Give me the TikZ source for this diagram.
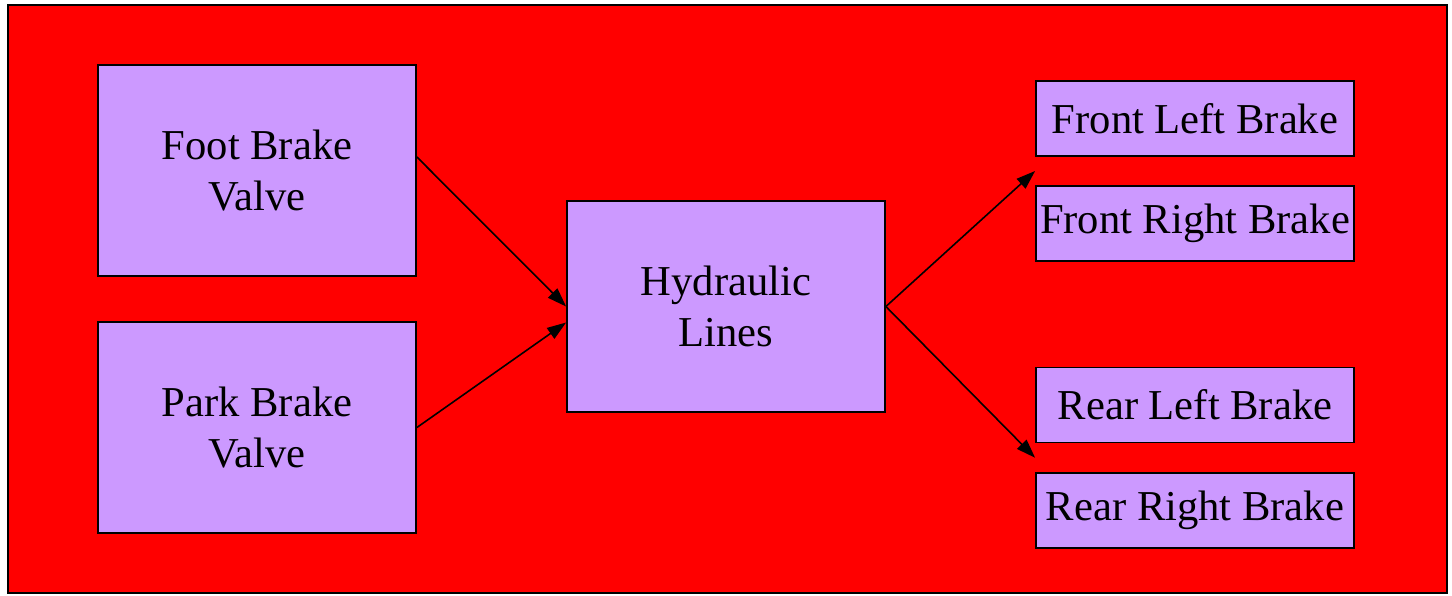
\documentclass[tikz,border=0pt]{standalone}
\usepackage{fontspec}
\setmainfont{Liberation Serif}
\usepackage{tikz}
\usetikzlibrary{arrows.meta,positioning,calc}
\definecolor{bgRed}{HTML}{FF0000}
\definecolor{boxLilac}{HTML}{CC99FF}

\begin{document}
\begin{tikzpicture}[
          x=0.5pt, y=-0.5pt,
          box/.style={rectangle, draw, fill=boxLilac, line width=0.9pt, align=center,
                      font=\fontsize{21.3pt}{25.5pt}\selectfont,
                      minimum width=159pt, minimum height=105.5pt, inner sep=0pt},
          brake/.style={box, minimum height=37.5pt},
          >={Triangle[length=9.5pt,width=6.5pt]},
          link/.style={->, line width=0.8pt}
        ]
        \useasboundingbox (0,0) rectangle (1452,595);
        \draw[fill=bgRed, line width=1pt] (8,5) rectangle (1447,593);
        \node[box] (foot) at (257,170.5) {Foot Brake\\Valve};
        \node[box] (park) at (257,427.5) {Park Brake\\Valve};
        \node[box] (hyd) at (726,306.5) {Hydraulic\\Lines};
        \node[brake] (fl) at (1195,118.5) {Front Left Brake};
        \node[brake] (fr) at (1195,223.5) {Front Right Brake};
        \node[brake] (rl) at (1195,405) {Rear Left Brake};
        \node[brake] (rr) at (1195,510.5) {Rear Right Brake};
        \coordinate (front) at ($(fl.south west)!0.5!(fr.north west)$);
        \coordinate (rear) at ($(rl.south west)!0.5!(rr.north west)$);
        \draw[link] ([yshift=6.75pt]foot.east) -- (hyd.west);
        \draw[link] (park.east) -- ([yshift=-8pt]hyd.west);
        \draw[link] (hyd.east) -- (front);
        \draw[link] (hyd.east) -- (rear);
      \end{tikzpicture}
\end{document}
